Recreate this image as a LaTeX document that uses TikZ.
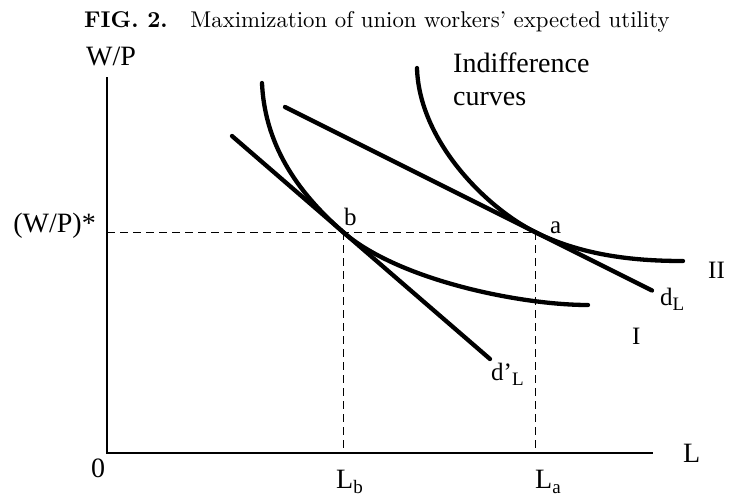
\documentclass[tikz,border=0pt]{standalone}
\usepackage{fontspec}
\newfontfamily\labfont{Liberation Serif}
\newfontfamily\titlefont{lmroman10-regular}[Extension=.otf, BoldFont=lmroman10-bold]
\newcommand{\lsub}[1]{\raisebox{-5pt}{\fontsize{19}{20}\selectfont #1}}
\begin{document}
\begin{tikzpicture}[x=1pt,y=-1pt,
  big/.style={font=\labfont\fontsize{28}{33}\selectfont, inner sep=0pt, anchor=base west},
  small/.style={font=\labfont\fontsize{25}{30}\selectfont, inner sep=0pt, anchor=base west},
  axisline/.style={line width=1.3pt},
  guide/.style={line width=0.9pt, dash pattern=on 8pt off 5pt},
  heavy/.style={line width=4.3pt, line cap=round},
]
\useasboundingbox (0,0) rectangle (732,499);

% title
\node[anchor=base west, font=\titlefont\fontsize{22.8}{27}\selectfont, inner sep=0pt] (title) at (84,27)
  {\textbf{FIG. 2.}\quad Maximization of union workers’ expected utility};

% axes
\coordinate (ytop) at (107,77);
\coordinate (O) at (107,453);
\coordinate (xend) at (653,453);
\draw[axisline] (ytop) -- (O) -- (xend);

% key points
\coordinate (b) at (343,232);
\coordinate (a) at (535,232);
\coordinate (ystar) at (107,232);

% guides
\draw[guide] (ystar) -- (a);
\draw[guide] (b) -- (b |- O);
\draw[guide] (a) -- (a |- O);

% demand lines
\coordinate (dp1) at (232,136);
\coordinate (dp2) at (490,359);
\coordinate (d1) at (285,107);
\coordinate (d2) at (652,290.5);
\draw[heavy] (dp1) -- (dp2);
\draw[heavy] (d1) -- (d2);

% indifference curves
\coordinate (I1) at (262,83);
\coordinate (I2) at (588,305);
\coordinate (II1) at (417,68);
\coordinate (II2) at (683,261);
\draw[heavy] (I1) .. controls (265,150) and (303,197) .. (b)
  .. controls (398,280) and (520,305) .. (I2);
\draw[heavy] (II1) .. controls (419,140) and (485,207) .. (a)
  .. controls (585,257) and (640,261) .. (II2);

% labels
\node[big] (wp) at (86,65) {W/P};
\node[big] (ind) at (453,72) {Indifference};
\node[big] (curves) at (453,105) {curves};
\node[big, anchor=base east] (wpstar) at (96,232) {(W/P)*};
\node[small] (lb) at (344,225) {b};
\node[small] (la) at (550,233) {a};
\node[small] (lII) at (708,278) {II};
\node[small] (lI) at (632,344) {I};
\node[small] (ldL) at (660,305) {d\lsub{L}};
\node[small] (ldpL) at (491,380) {d’\lsub{L}};
\node[big] (zero) at (91,477) {0};
\node[big] (lL) at (683,462) {L};
\node[big] (lLb) at (336,488) {L\lsub{b}};
\node[big] (lLa) at (535,488) {L\lsub{a}};
\end{tikzpicture}
\end{document}
